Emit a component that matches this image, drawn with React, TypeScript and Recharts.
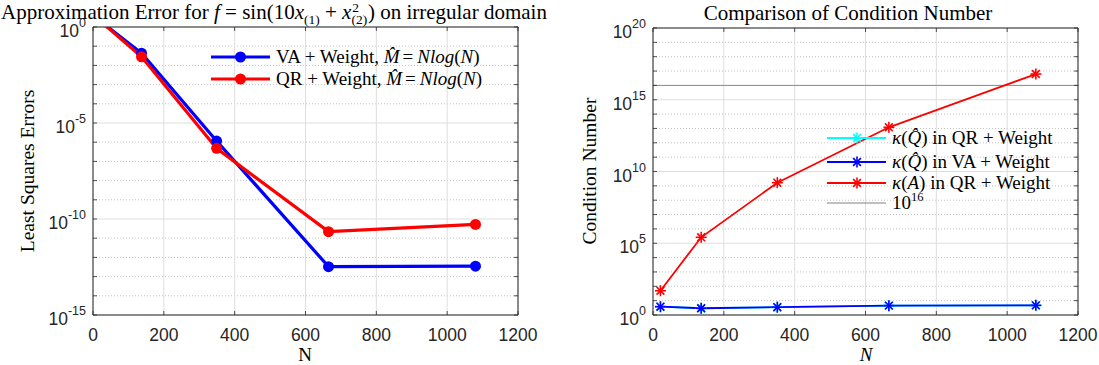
import React from 'react';
import { LineChart, Line, XAxis, YAxis, CartesianGrid, ReferenceLine, Legend } from 'recharts';

const SERIF = '"Liberation Serif", "Times New Roman", serif';
const SANS = '"Liberation Sans", Arial, Helvetica, sans-serif';
const AX = '#262626';
const GRID_MAJOR = '#dedede';
const GRID_MINOR = '#c2c2c2';

// ---- Data: approximation error (left) ----
const N_err = [21, 137, 349, 665, 1080];
const err_VA = [2.0, 4.3e-2, 1.15e-6, 3.3e-13, 3.5e-13];
const err_QR = [2.0, 2.8e-2, 4.8e-7, 2.2e-11, 5.2e-11];

// ---- Data: condition number (right) ----
const N_cond = [21, 136, 351, 666, 1081];
const cond_Qhat_QR = [3.8, 2.95, 3.5, 4.5, 4.7];
const cond_Qhat_VA = [3.8, 2.95, 3.5, 4.5, 4.7];
const cond_A_QR = [49, 2.6e5, 1.66e9, 1.2e13, 6.2e16];
const cond_threshold = 1e16;

// ---- Ticks ----
const xTicks = [0, 200, 400, 600, 800, 1000, 1200];
const errYTicks = [1e-15, 1e-14, 1e-13, 1e-12, 1e-11, 1e-10, 1e-9, 1e-8, 1e-7, 1e-6, 1e-5, 1e-4, 1e-3, 1e-2, 1e-1, 1];
const errYMajor = [1e-15, 1e-10, 1e-5, 1];
const condYTicks = [1, 1e1, 1e2, 1e3, 1e4, 1e5, 1e6, 1e7, 1e8, 1e9, 1e10, 1e11, 1e12, 1e13, 1e14, 1e15, 1e16, 1e17, 1e18, 1e19, 1e20];
const condYMajor = [1, 1e5, 1e10, 1e15, 1e20];

const errYMinor = errYTicks.filter((t) => !errYMajor.includes(t));
const condYMinor = condYTicks.filter((t) => !condYMajor.includes(t));

const errData = N_err.map((n, i) => ({ N: n, va: err_VA[i], qr: err_QR[i] }));
const condData = N_cond.map((n, i) => ({ N: n, qq: cond_Qhat_QR[i], qv: cond_Qhat_VA[i], a: cond_A_QR[i] }));

const TL = 4;

const LeftTick = (p: any) => {
  const { x, y, payload } = p;
  const e = Math.round(Math.log10(payload.value));
  return (
    <g>
      <line x1={x} x2={x + TL} y1={y} y2={y} stroke={AX} strokeWidth={0.8} />
      {e % 5 === 0 && (
        <text x={x - 7} y={y + 10} textAnchor="end" fontFamily={SANS} fill={AX}>
          <tspan fontSize={17.5}>10</tspan>
          <tspan fontSize={12.5} dy={-10}>{String(e)}</tspan>
        </text>
      )}
    </g>
  );
};
const RightTick = (p: any) => {
  const { x, y } = p;
  return <line x1={x} x2={x - TL} y1={y} y2={y} stroke={AX} strokeWidth={0.8} />;
};
const BottomTick = (p: any) => {
  const { x, y, payload } = p;
  return (
    <g>
      <line x1={x} x2={x} y1={y} y2={y - TL} stroke={AX} strokeWidth={0.8} />
      <text x={x} y={y + 26} textAnchor="middle" fontFamily={SANS} fontSize={17.5} fill={AX}>
        {String(payload.value)}
      </text>
    </g>
  );
};
const TopTick = (p: any) => {
  const { x, y } = p;
  return <line x1={x} x2={x} y1={y} y2={y + TL} stroke={AX} strokeWidth={0.8} />;
};

const makeStar = (color: string) => (p: any) => {
  const { cx, cy, index } = p;
  if (cx == null || cy == null) return <g key={`s${index}`} />;
  const r = 5.5;
  const d = 3.9;
  return (
    <g key={`s${index}`} stroke={color} strokeWidth={1.6}>
      <line x1={cx - r} x2={cx + r} y1={cy} y2={cy} />
      <line x1={cx} x2={cx} y1={cy - r} y2={cy + r} />
      <line x1={cx - d} y1={cy - d} x2={cx + d} y2={cy + d} />
      <line x1={cx - d} y1={cy + d} x2={cx + d} y2={cy - d} />
    </g>
  );
};

const StarIcon = ({ cx, cy, color }: { cx: number; cy: number; color: string }) => {
  const r = 5.5;
  const d = 3.9;
  return (
    <g stroke={color} strokeWidth={1.6}>
      <line x1={cx - r} x2={cx + r} y1={cy} y2={cy} />
      <line x1={cx} x2={cx} y1={cy - r} y2={cy + r} />
      <line x1={cx - d} y1={cy - d} x2={cx + d} y2={cy + d} />
      <line x1={cx - d} y1={cy + d} x2={cx + d} y2={cy - d} />
    </g>
  );
};

const LeftLegend = () => {
  const rows = [
    { c: '#0000ff', t: 'VA' },
    { c: '#ff0000', t: 'QR' },
  ];
  return (
    <svg width={300} height={46} style={{ overflow: 'visible' }}>
      {rows.map((r, i) => {
        const yc = 11 + i * 22;
        return (
          <g key={r.t}>
            <line x1={0} x2={59} y1={yc} y2={yc} stroke={r.c} strokeWidth={3.2} />
            <circle cx={29.5} cy={yc} r={5.5} fill={r.c} />
            <text x={65} y={yc + 6} fontFamily={SERIF} fontSize={19} fill="#000">
              {r.t} + Weight, <tspan fontStyle="italic">M&#770;</tspan>
              <tspan dx={3}>=</tspan>
              <tspan dx={4} fontStyle="italic">Nlog</tspan>(<tspan fontStyle="italic">N</tspan>)
            </text>
          </g>
        );
      })}
    </svg>
  );
};

const RightLegend = () => {
  const rows = [
    { c: '#00ffff', q: true, t: 'QR', y: 11 },
    { c: '#0000ff', q: true, t: 'VA', y: 35 },
    { c: '#ff0000', q: false, t: 'QR', y: 56 },
  ];
  return (
    <svg width={240} height={90} style={{ overflow: 'visible' }}>
      {rows.map((r, i) => (
        <g key={i}>
          <line x1={0} x2={59} y1={r.y} y2={r.y} stroke={r.c} strokeWidth={1.8} />
          <StarIcon cx={30} cy={r.y} color={r.c} />
          <text x={65} y={r.y + 6} fontFamily={SERIF} fontSize={19} fill="#000">
            <tspan fontStyle="italic">κ</tspan>(<tspan fontStyle="italic">{r.q ? 'Q\u0302' : 'A'}</tspan>) in {r.t} + Weight
          </text>
        </g>
      ))}
      <line x1={0} x2={59} y1={76} y2={76} stroke="#808080" strokeWidth={1} />
      <text x={65} y={82} fontFamily={SERIF} fontSize={19} fill="#000">
        10<tspan fontSize={12.5} dy={-8}>16</tspan>
      </text>
    </svg>
  );
};

const axisCommon = {
  tickSize: 0,
  tickMargin: 0,
  tickLine: false,
  interval: 0 as const,
  allowDataOverflow: true,
};

export default function App() {
  return (
    <div style={{ position: 'absolute', left: 0, top: 0, width: 1099, height: 365, background: '#fff' }}>
      <div style={{ position: 'absolute', left: 0, top: 0 }}>
        <LineChart width={550} height={365} data={errData} margin={{ top: 26, right: 31, bottom: 0, left: 0 }}>
          <CartesianGrid xAxisId="b" yAxisId="l" horizontalValues={errYMinor} vertical={false} stroke={GRID_MINOR} strokeDasharray="1 2" />
          <CartesianGrid xAxisId="b" yAxisId="l" horizontalValues={errYMajor} verticalValues={xTicks} stroke={GRID_MAJOR} />
          <XAxis xAxisId="b" dataKey="N" type="number" domain={[0, 1200]} ticks={xTicks} height={50} axisLine={{ stroke: AX }} tick={<BottomTick />} {...axisCommon} />
          <XAxis xAxisId="t" orientation="top" dataKey="N" type="number" domain={[0, 1200]} ticks={xTicks} height={1} axisLine={{ stroke: AX }} tick={<TopTick />} {...axisCommon} />
          <YAxis yAxisId="l" type="number" scale="log" domain={[1e-15, 1]} ticks={errYTicks} width={93} axisLine={{ stroke: AX }} tick={<LeftTick />} {...axisCommon} />
          <YAxis yAxisId="r" orientation="right" type="number" scale="log" domain={[1e-15, 1]} ticks={errYTicks} width={1} axisLine={{ stroke: AX }} tick={<RightTick />} {...axisCommon} />
          <Line xAxisId="b" yAxisId="l" dataKey="va" stroke="#0000ff" strokeWidth={3.2} dot={{ r: 5.5, fill: '#0000ff', stroke: '#0000ff', strokeWidth: 0 }} isAnimationActive={false} />
          <Line xAxisId="b" yAxisId="l" dataKey="qr" stroke="#ff0000" strokeWidth={3.2} dot={{ r: 5.5, fill: '#ff0000', stroke: '#ff0000', strokeWidth: 0 }} isAnimationActive={false} />
          <Legend layout="vertical" align="center" verticalAlign="middle" wrapperStyle={{ left: 211, top: 46, width: 300, height: 46 }} content={<LeftLegend />} />
        </LineChart>
      </div>
      <div style={{ position: 'absolute', left: 560, top: 0 }}>
        <LineChart width={539} height={365} data={condData} margin={{ top: 27, right: 20, bottom: 0, left: 0 }}>
          <CartesianGrid xAxisId="b" yAxisId="l" horizontalValues={condYMinor} vertical={false} stroke={GRID_MINOR} strokeDasharray="1 2" />
          <CartesianGrid xAxisId="b" yAxisId="l" horizontalValues={condYMajor} verticalValues={xTicks} stroke={GRID_MAJOR} />
          <XAxis xAxisId="b" dataKey="N" type="number" domain={[0, 1200]} ticks={xTicks} height={50} axisLine={{ stroke: AX }} tick={<BottomTick />} {...axisCommon} />
          <XAxis xAxisId="t" orientation="top" dataKey="N" type="number" domain={[0, 1200]} ticks={xTicks} height={1} axisLine={{ stroke: AX }} tick={<TopTick />} {...axisCommon} />
          <YAxis yAxisId="l" type="number" scale="log" domain={[1, 1e20]} ticks={condYTicks} width={93} axisLine={{ stroke: AX }} tick={<LeftTick />} {...axisCommon} />
          <YAxis yAxisId="r" orientation="right" type="number" scale="log" domain={[1, 1e20]} ticks={condYTicks} width={1} axisLine={{ stroke: AX }} tick={<RightTick />} {...axisCommon} />
          <ReferenceLine xAxisId="b" yAxisId="l" y={cond_threshold} stroke="#8a8a8a" strokeWidth={1} />
          <Line xAxisId="b" yAxisId="l" dataKey="qq" stroke="#00ffff" strokeWidth={1.8} dot={makeStar('#00ffff')} isAnimationActive={false} />
          <Line xAxisId="b" yAxisId="l" dataKey="qv" stroke="#0000ff" strokeWidth={1.8} dot={makeStar('#0000ff')} isAnimationActive={false} />
          <Line xAxisId="b" yAxisId="l" dataKey="a" stroke="#ff0000" strokeWidth={1.8} dot={makeStar('#ff0000')} isAnimationActive={false} />
          <Legend layout="vertical" align="center" verticalAlign="middle" wrapperStyle={{ left: 267, top: 127, width: 240, height: 90 }} content={<RightLegend />} />
        </LineChart>
      </div>
      <svg width={1099} height={365} style={{ position: 'absolute', left: 0, top: 0, pointerEvents: 'none' }}>
        <text x={274} y={19} textAnchor="middle" fontFamily={SERIF} fontSize={21} fill="#000">
          Approximation Error for <tspan fontStyle="italic">f</tspan> = sin(10<tspan fontStyle="italic">x</tspan>
          <tspan fontSize={13.5} dy={5}>(1)</tspan>
          <tspan dy={-5}> + </tspan>
          <tspan fontStyle="italic">x</tspan>
          <tspan fontSize={13.5} dy={5}>(2)</tspan>
          <tspan fontSize={13.5} dx={-15} dy={-12}>2</tspan>
          <tspan dx={9} dy={7}>) on irregular domain</tspan>
        </text>
        <text x={848} y={20} textAnchor="middle" fontFamily={SERIF} fontSize={21} fill="#000">
          Comparison of Condition Number
        </text>
        <text transform="translate(34,171) rotate(-90)" textAnchor="middle" fontFamily={SERIF} fontSize={19.5} fill="#000">
          Least Squares Errors
        </text>
        <text transform="translate(596,171) rotate(-90)" textAnchor="middle" fontFamily={SERIF} fontSize={19.5} fill="#000">
          Condition Number
        </text>
        <text x={305} y={361} textAnchor="middle" fontFamily={SERIF} fontSize={19} fill="#000">N</text>
        <text x={866} y={361} textAnchor="middle" fontFamily={SERIF} fontSize={19} fontStyle="italic" fill="#000">N</text>
      </svg>
    </div>
  );
}
